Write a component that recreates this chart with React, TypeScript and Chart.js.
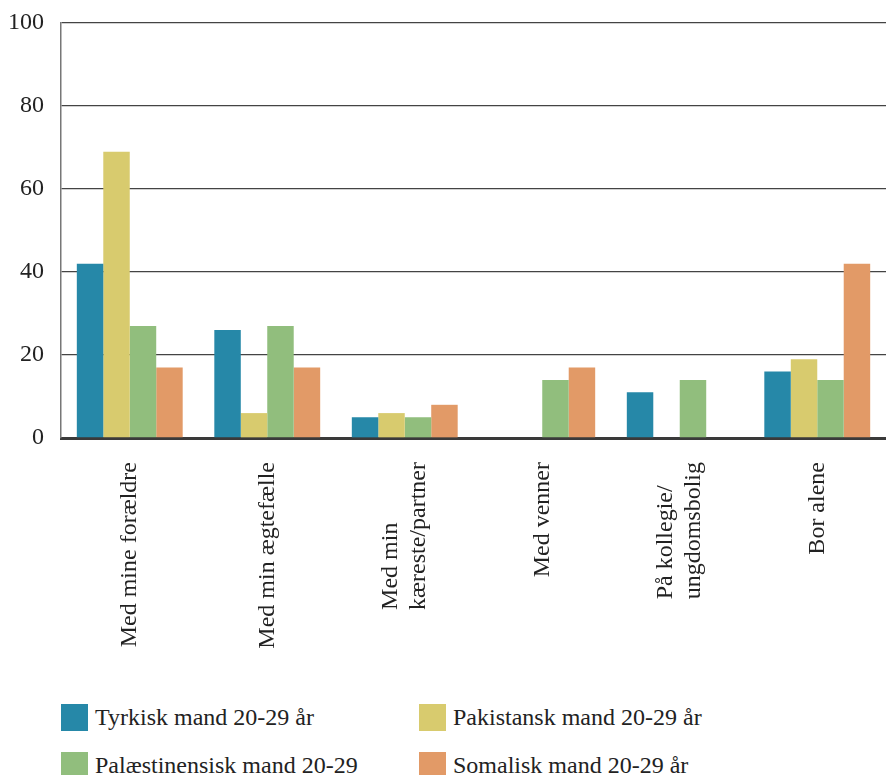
import React, { useEffect, useRef } from "react";
import { Chart, registerables } from "chart.js";

Chart.register(...registerables);

const categories: string[][] = [
  ["Med mine forældre"],
  ["Med min ægtefælle"],
  ["Med min", "kæreste/partner"],
  ["Med venner"],
  ["På kollegie/", "ungdomsbolig"],
  ["Bor alene"],
];

const seriesNames = [
  "Tyrkisk mand 20-29 år",
  "Pakistansk mand 20-29 år",
  "Palæstinensisk mand 20-29",
  "Somalisk mand 20-29 år",
];

const tyrkisk = [42, 26, 5, 0, 11, 16];
const pakistansk = [69, 6, 6, 0, 0, 19];
const palaestinensisk = [27, 27, 5, 14, 14, 14];
const somalisk = [17, 17, 8, 17, 0, 42];

const colors = ["#2688A8", "#D8CB6E", "#91BE7D", "#E29A67"];
const yTicks = [0, 20, 40, 60, 80, 100];

const SERIF = "'Liberation Serif', 'DejaVu Serif', serif";

const xLabelPlugin = {
  id: "xLabels",
  afterDraw(chart: any) {
    const xs = chart.scales.x;
    const ctx = chart.ctx;
    ctx.save();
    ctx.font = `24px ${SERIF}`;
    ctx.fillStyle = "#222";
    ctx.textAlign = "left";
    ctx.textBaseline = "middle";
    const lineH = 28;
    const top = xs.top + 24;
    categories.forEach((lines, i) => {
      const x = xs.getPixelForTick(i);
      const maxW = Math.max(...lines.map((l) => ctx.measureText(l).width));
      const total = lines.length * lineH;
      lines.forEach((line, j) => {
        const cx = x - total / 2 + lineH * (j + 0.5);
        ctx.save();
        ctx.translate(cx, top + maxW);
        ctx.rotate(-Math.PI / 2);
        ctx.fillText(line, 0, 0);
        ctx.restore();
      });
    });
    ctx.restore();
  },
};

export default function App() {
  const ref = useRef<HTMLCanvasElement | null>(null);

  useEffect(() => {
    if (!ref.current) return;
    const values = [tyrkisk, pakistansk, palaestinensisk, somalisk];
    const chart = new Chart(ref.current, {
      type: "bar",
      data: {
        labels: categories.map((c) => c.join(" ")),
        datasets: seriesNames.map((name, i) => ({
          label: name,
          data: values[i],
          backgroundColor: colors[i],
          borderWidth: 0,
          categoryPercentage: 0.77,
          barPercentage: 1.0,
        })),
      },
      options: {
        responsive: false,
        animation: false,
        devicePixelRatio: 1,
        layout: { padding: { top: 23, left: 0, right: 0, bottom: 0 } },
        plugins: {
          legend: { display: false },
          tooltip: { enabled: false },
        },
        scales: {
          x: {
            z: 1,
            grid: { display: false, drawTicks: false },
            border: { display: true, color: "#3a3a3a", width: 3 },
            ticks: { display: false },
            afterFit: (scale: any) => {
              scale.height = 690 - 438;
              scale.paddingLeft = 0;
              scale.paddingRight = 0;
            },
          },
          y: {
            min: 0,
            max: 100,
            afterBuildTicks: (scale: any) => {
              scale.ticks = yTicks.map((v) => ({ value: v }));
            },
            grid: { color: "#444", lineWidth: 1.3, drawTicks: false },
            border: { display: true, color: "#777", width: 1.5 },
            ticks: {
              padding: 17,
              color: "#222",
              font: { family: SERIF, size: 24 },
            },
            afterFit: (scale: any) => {
              scale.width = 61;
              scale.paddingTop = 0;
              scale.paddingBottom = 0;
            },
          },
        },
      },
      plugins: [xLabelPlugin],
    });
    return () => chart.destroy();
  }, []);

  const legendPos = [
    { left: 61, top: 704 },
    { left: 419, top: 704 },
    { left: 61, top: 752 },
    { left: 419, top: 752 },
  ];

  return (
    <div
      style={{
        position: "absolute",
        left: 0,
        top: 0,
        width: 886,
        height: 775,
        overflow: "hidden",
        background: "#fff",
      }}
    >
      <canvas ref={ref} width={886} height={690} style={{ display: "block" }} />
      {seriesNames.map((name, i) => (
        <div
          key={name}
          style={{
            position: "absolute",
            left: legendPos[i].left,
            top: legendPos[i].top,
            height: 27,
            display: "flex",
            alignItems: "center",
            whiteSpace: "nowrap",
          }}
        >
          <span
            style={{
              display: "inline-block",
              width: 27,
              height: 27,
              background: colors[i],
            }}
          />
          <span
            style={{
              display: "inline-block",
              marginLeft: 7,
              fontFamily: SERIF,
              fontSize: 24,
              lineHeight: "27px",
              color: "#222",
            }}
          >
            {name}
          </span>
        </div>
      ))}
    </div>
  );
}
